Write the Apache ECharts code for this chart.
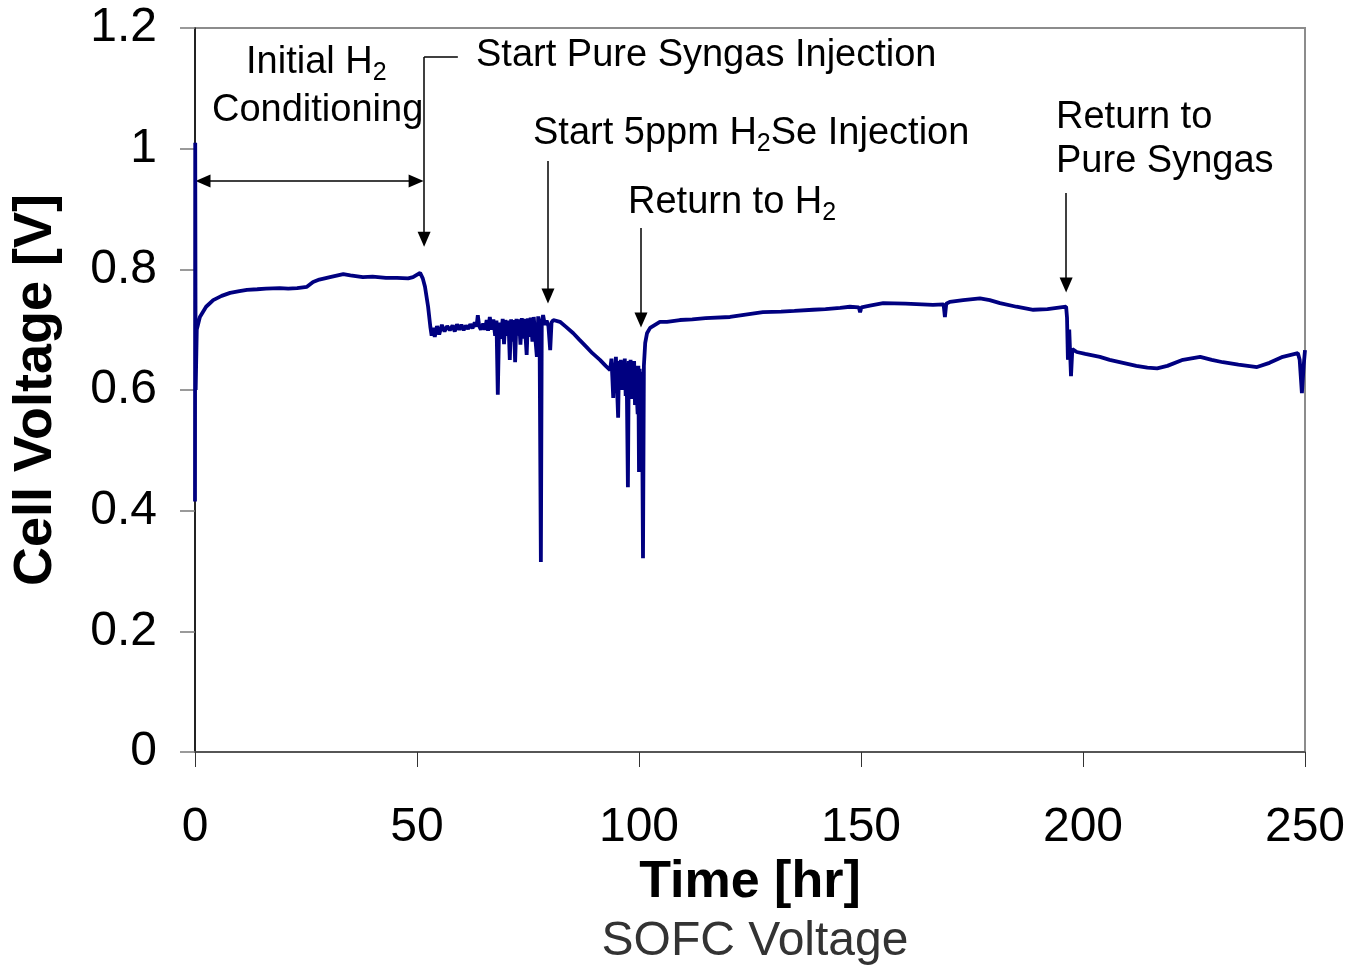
<!DOCTYPE html>
<html>
<head>
<meta charset="utf-8">
<title>SOFC Voltage</title>
<script src="https://cdn.jsdelivr.net/npm/echarts@6/dist/echarts.min.js"></script>
<style>
  html, body { margin: 0; padding: 0; background: #fff; }
  #chart { width: 1353px; height: 967px; }
</style>
</head>
<body>
<div id="chart"></div>
<script>
// Cell voltage log of the SOFC test, time in hours
const timeHr = [
  0, 0.05, 0.15, 0.4, 1.1, 2.5, 4.1, 6, 7.9, 10, 11.7, 14, 16, 19.1, 21, 23, 25.2, 26.6, 28, 30.4,
  33.4, 35, 37.8, 40, 43, 45.5, 48, 49.1, 50.7, 51.3, 51.8, 52.5,
  53.0, 53.3, 53.6, 54.0, 54.5, 55.0, 55.6, 56.2, 56.8, 57.4, 58.0, 58.5, 59.0, 59.5, 60.0, 60.5, 61.0, 61.5, 62.0, 62.5,
  63.0, 63.4, 63.7, 64.0, 64.4, 64.9, 65.3, 65.7, 66.0, 66.4, 66.8, 67.2, 67.6, 67.9, 68.2, 68.5, 68.9, 69.3, 69.6, 69.9,
  70.3, 70.6, 70.9, 71.2, 71.5, 71.8, 72.1, 72.4, 72.7, 73.0, 73.3, 73.6, 73.9, 74.2, 74.7, 75.0, 75.3, 75.6, 76.0, 76.3,
  76.6, 77.0, 77.3, 77.6, 77.9, 78.1, 78.4, 78.8, 79.2, 79.6, 80.0, 80.3, 80.7, 82.2, 83.5, 85.2, 86.5, 88.2, 89.5, 91.2,
  92.5, 93.5, 93.8, 94.0, 94.2, 94.4, 94.6, 94.8, 95.0, 95.3, 95.5, 95.7, 95.9, 96.2, 96.4, 96.6, 96.8, 97.0, 97.2, 97.5,
  97.7, 97.9, 98.1, 98.3, 98.5, 98.7, 98.9, 99.1, 99.3, 99.5, 99.7, 99.85, 100.0, 100.15, 100.3, 100.5, 100.7, 100.9, 101.1, 101.4,
  101.8, 102.5, 104.7, 106.3, 109.2, 112, 115, 120.5, 124, 127.9, 132, 135, 139.2, 142, 145.3, 147.5, 149.5, 149.8, 150.1, 152,
  155, 160, 166.2, 168.6, 168.9, 169.2, 170, 173, 176.8, 179, 181.3, 185, 188.8, 192, 196.2, 196.4, 196.6, 196.9, 197.3, 197.6,
  198.6, 200.5, 203.8, 206, 209, 212, 214.5, 216.7, 219, 222.5, 226.4, 229, 231.5, 235, 239.2, 242, 245, 248.4, 248.8, 249.3,
  249.7, 250
];
const cellVoltage = [
  0.415, 1.01, 0.60, 0.70, 0.721, 0.738, 0.749, 0.756, 0.761, 0.764, 0.766, 0.767, 0.768, 0.769, 0.768, 0.769, 0.771, 0.779, 0.783, 0.787,
  0.792, 0.790, 0.787, 0.788, 0.786, 0.786, 0.785, 0.787, 0.794, 0.785, 0.771, 0.738,
  0.705, 0.690, 0.703, 0.688, 0.706, 0.692, 0.708, 0.697, 0.706, 0.699, 0.707, 0.697, 0.709, 0.700, 0.708, 0.699, 0.707, 0.701, 0.709, 0.702,
  0.712, 0.705, 0.724, 0.706, 0.700, 0.710, 0.700, 0.716, 0.698, 0.721, 0.700, 0.717, 0.690, 0.715, 0.592, 0.712, 0.685, 0.718, 0.676, 0.716,
  0.690, 0.715, 0.650, 0.717, 0.680, 0.716, 0.646, 0.718, 0.690, 0.717, 0.675, 0.719, 0.685, 0.718, 0.658, 0.719, 0.688, 0.720, 0.680, 0.721,
  0.690, 0.655, 0.722, 0.700, 0.315, 0.712, 0.724, 0.708, 0.715, 0.706, 0.666, 0.712, 0.716, 0.713, 0.705, 0.694, 0.684, 0.671, 0.661, 0.650,
  0.640, 0.633, 0.652, 0.620, 0.587, 0.645, 0.628, 0.655, 0.615, 0.554, 0.648, 0.605, 0.650, 0.600, 0.648, 0.610, 0.652, 0.590, 0.645, 0.439,
  0.648, 0.600, 0.650, 0.585, 0.645, 0.600, 0.648, 0.575, 0.640, 0.590, 0.560, 0.640, 0.464, 0.635, 0.590, 0.630, 0.560, 0.321, 0.640, 0.678,
  0.694, 0.703, 0.713, 0.713, 0.716, 0.717, 0.719, 0.721, 0.725, 0.729, 0.730, 0.731, 0.733, 0.734, 0.736, 0.738, 0.737, 0.729, 0.737, 0.740,
  0.744, 0.743, 0.741, 0.742, 0.721, 0.743, 0.746, 0.749, 0.752, 0.749, 0.744, 0.738, 0.733, 0.734, 0.738, 0.720, 0.650, 0.700, 0.623, 0.668,
  0.663, 0.660, 0.655, 0.650, 0.645, 0.640, 0.637, 0.636, 0.640, 0.650, 0.655, 0.650, 0.646, 0.642, 0.638, 0.645, 0.655, 0.661, 0.650, 0.595,
  0.640, 0.666
];

// Axis ranges and ticks
const xTicks = [0, 50, 100, 150, 200, 250];
const yTicks = [0, 0.2, 0.4, 0.6, 0.8, 1, 1.2];

// Event arrows: [fromTime, fromVolt, toTime, toVolt, bothEnds]
const eventArrows = [
  [1.8, 0.9464, 49.8, 0.9464, true],      // initial H2 conditioning span
  [51.6, 1.152, 51.6, 0.850, false],      // start pure syngas
  [79.5, 0.9796, 79.5, 0.7558, false],    // start H2Se
  [100.45, 0.8685, 100.45, 0.716, false], // return to H2
  [196.2, 0.9265, 196.2, 0.774, false]    // return to pure syngas
];
// Leader line from the syngas caption to its arrow
const leaderLine = [[51.6, 1.152], [59.2, 1.152]];

const FONT = '"Liberation Sans", Arial, Helvetica, sans-serif';

const seriesData = timeHr.map((t, i) => [t, cellVoltage[i]]);

const arrowLines = eventArrows.map(a => [
  { coord: [a[0], a[1]], symbol: a[4] ? 'triangle' : 'none' },
  { coord: [a[2], a[3]], symbol: 'triangle' }
]);
arrowLines.push([
  { coord: leaderLine[0], symbol: 'none' },
  { coord: leaderLine[1], symbol: 'none' }
]);

const noteStyle = {
  font: '38px ' + FONT,
  fill: '#000',
  rich: {
    n: { fontSize: 38, fontFamily: FONT, fill: '#000' },
    s: { fontSize: 25, fontFamily: FONT, fill: '#000', padding: [20, 0, 0, 0] }
  }
};
function note(x, y, text) {
  return {
    type: 'text', x: x, y: y, silent: true, z: 20,
    style: Object.assign({}, noteStyle, { text: text, align: 'left', verticalAlign: 'middle' })
  };
}

const chart = echarts.init(document.getElementById('chart'), null, { renderer: 'canvas' });
chart.setOption({
  animation: false,
  backgroundColor: '#fff',
  grid: {
    left: 195, right: 48, top: 28, bottom: 215,
    show: true, borderColor: '#8c8c8c', borderWidth: 2, backgroundColor: 'transparent'
  },
  xAxis: {
    type: 'value', min: xTicks[0], max: xTicks[xTicks.length - 1], interval: 50,
    name: 'Time [hr]', nameLocation: 'middle', nameGap: 104,
    nameTextStyle: { fontFamily: FONT, fontSize: 52, fontWeight: 'bold', color: '#000' },
    axisLine: { lineStyle: { color: '#444', width: 1.5 } },
    axisTick: { show: true, inside: false, length: 15, lineStyle: { color: '#333', width: 1 } },
    axisLabel: { fontFamily: FONT, fontSize: 48, color: '#000', margin: 52 },
    splitLine: { show: false }
  },
  yAxis: {
    type: 'value', min: yTicks[0], max: yTicks[yTicks.length - 1], interval: 0.2,
    name: 'Cell Voltage [V]', nameLocation: 'middle', nameGap: 132,
    nameTextStyle: { fontFamily: FONT, fontSize: 54, fontWeight: 'bold', color: '#000' },
    axisLine: { lineStyle: { color: '#000', width: 1.5 } },
    axisTick: { show: true, inside: false, length: 15, lineStyle: { color: '#7a7a7a', width: 1.5 } },
    axisLabel: { fontFamily: FONT, fontSize: 48, color: '#000', margin: 38 },
    splitLine: { show: false }
  },
  series: [
    {
      name: 'Cell Voltage',
      type: 'line',
      data: seriesData,
      showSymbol: false,
      sampling: 'none',
      lineStyle: { color: '#000080', width: 3.8 },
      itemStyle: { color: '#000080' },
      z: 5
    },
    {
      name: 'events',
      type: 'line',
      data: [],
      silent: true,
      markLine: {
        silent: true,
        animation: false,
        symbol: ['none', 'triangle'],
        symbolSize: [13, 15],
        label: { show: false },
        lineStyle: { color: '#000', width: 1.5, type: 'solid' },
        emphasis: { disabled: true },
        data: arrowLines
      },
      z: 6
    }
  ],
  graphic: [
    note(246, 63, '{n|Initial H}{s|2}'),
    note(212, 111, '{n|Conditioning}'),
    note(476, 56, '{n|Start Pure Syngas Injection}'),
    note(533, 134, '{n|Start 5ppm H}{s|2}{n|Se Injection}'),
    note(628, 203, '{n|Return to H}{s|2}'),
    note(1056, 118, '{n|Return to}'),
    note(1056, 162, '{n|Pure Syngas}'),
    {
      type: 'text', x: 755, y: 942, silent: true,
      style: { text: 'SOFC Voltage', font: '48px ' + FONT, fill: '#333', align: 'center', verticalAlign: 'middle' }
    }
  ]
});
</script>
</body>
</html>
